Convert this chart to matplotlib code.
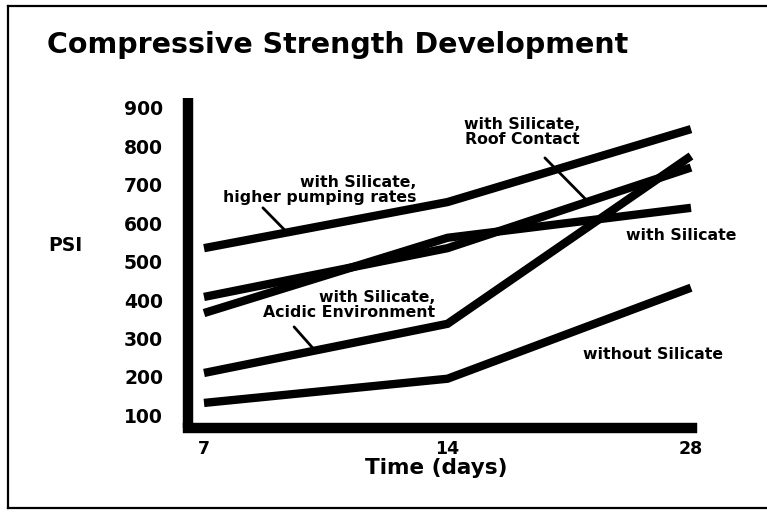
import matplotlib
matplotlib.use("Agg")
import matplotlib.pyplot as plt
import numpy as np
from matplotlib.lines import Line2D

plt.rcParams['font.family'] = ['DejaVu Sans']
plt.rcParams['font.weight'] = 'bold'

# ---- data ----
days = ['7', '14', '28']
psi_ticks = [100, 200, 300, 400, 500, 600, 700, 800, 900]
higher_pumping = [535, 655, 845]
roof_contact = [408, 535, 745]
with_silicate = [366, 562, 640]
acidic_env = [210, 338, 775]
without_silicate = [132, 195, 432]

W, H = 767, 514
fig = plt.figure(figsize=(W / 100, H / 100), dpi=100)
fig.patch.set_facecolor('white')

def fx(p):
    return p / W

def fy(p):
    return 1 - p / H

# frame lines (scanned border)
for (x0, y0, x1, y1) in [(8, 6, 8, 508), (8, 6, 767, 6), (8, 508, 767, 508)]:
    fig.add_artist(Line2D([fx(x0), fx(x1)], [fy(y0), fy(y1)], color='black',
                          lw=1.6, transform=fig.transFigure))

ax = fig.add_axes([fx(188), fy(428), (692 - 188) / W, (428 - 98) / H])
ax.set_facecolor('white')
x = np.arange(len(days))
ax.set_xlim(-0.0657, 2.0041)
ax.set_ylim(66.7, 926)

for s in ['top', 'right']:
    ax.spines[s].set_visible(False)
ax.spines['left'].set_linewidth(7.5)
ax.spines['bottom'].set_linewidth(7.5)
ax.spines['bottom'].set_capstyle('projecting')
ax.spines['left'].set_capstyle('butt')

ax.set_xticks(x, days)
ax.set_yticks(psi_ticks)
ax.tick_params(axis='both', length=0)
ax.tick_params(axis='y', pad=18, labelsize=13.5)
ax.tick_params(axis='x', pad=9, labelsize=12.5)
for lab in ax.get_xticklabels() + ax.get_yticklabels():
    lab.set_fontweight('bold')

series = [higher_pumping, roof_contact, with_silicate, acidic_env, without_silicate]
for ys in series:
    ax.plot(x, ys, color='black', lw=6.0, solid_capstyle='butt',
            solid_joinstyle='miter', clip_on=False)

tfs = 11.3
# annotations
ax.text(0.871, 686, 'with Silicate,\nhigher pumping rates', ha='right', va='center',
        multialignment='right', fontsize=tfs, fontweight='bold', linespacing=1.0)
ax.text(1.544, 837, 'with Silicate,\nRoof Contact', ha='right', va='center',
        multialignment='right', fontsize=tfs, fontweight='bold', linespacing=1.0)
ax.text(0.949, 387, 'with Silicate,\nAcidic Environment', ha='right', va='center',
        multialignment='right', fontsize=tfs, fontweight='bold', linespacing=1.0)
ax.text(1.733, 567, 'with Silicate', ha='left', va='center',
        fontsize=tfs, fontweight='bold')
ax.text(1.556, 257, 'without Silicate', ha='left', va='center',
        fontsize=tfs, fontweight='bold')

def leader(series_vals, x_end, start):
    y_end = np.interp(x_end, x, series_vals)
    ax.annotate('', xy=(x_end, y_end), xytext=start,
                arrowprops=dict(arrowstyle='-', lw=2.0, color='black',
                                shrinkA=0, shrinkB=0))

leader(higher_pumping, 0.341, (0.242, 640))
leader(roof_contact, 1.577, (1.400, 770))
leader(acidic_env, 0.456, (0.370, 330))

fig.text(fx(47), fy(45), 'Compressive Strength Development', ha='left', va='center',
         fontsize=20.5, fontweight='bold')
fig.text(fx(65), fy(245), 'PSI', ha='center', va='center', fontsize=13.5,
         fontweight='bold')
fig.text(fx(436), fy(468), 'Time (days)', ha='center', va='center', fontsize=15.5,
         fontweight='bold')

fig.savefig('out.png', dpi=100, facecolor='white')
